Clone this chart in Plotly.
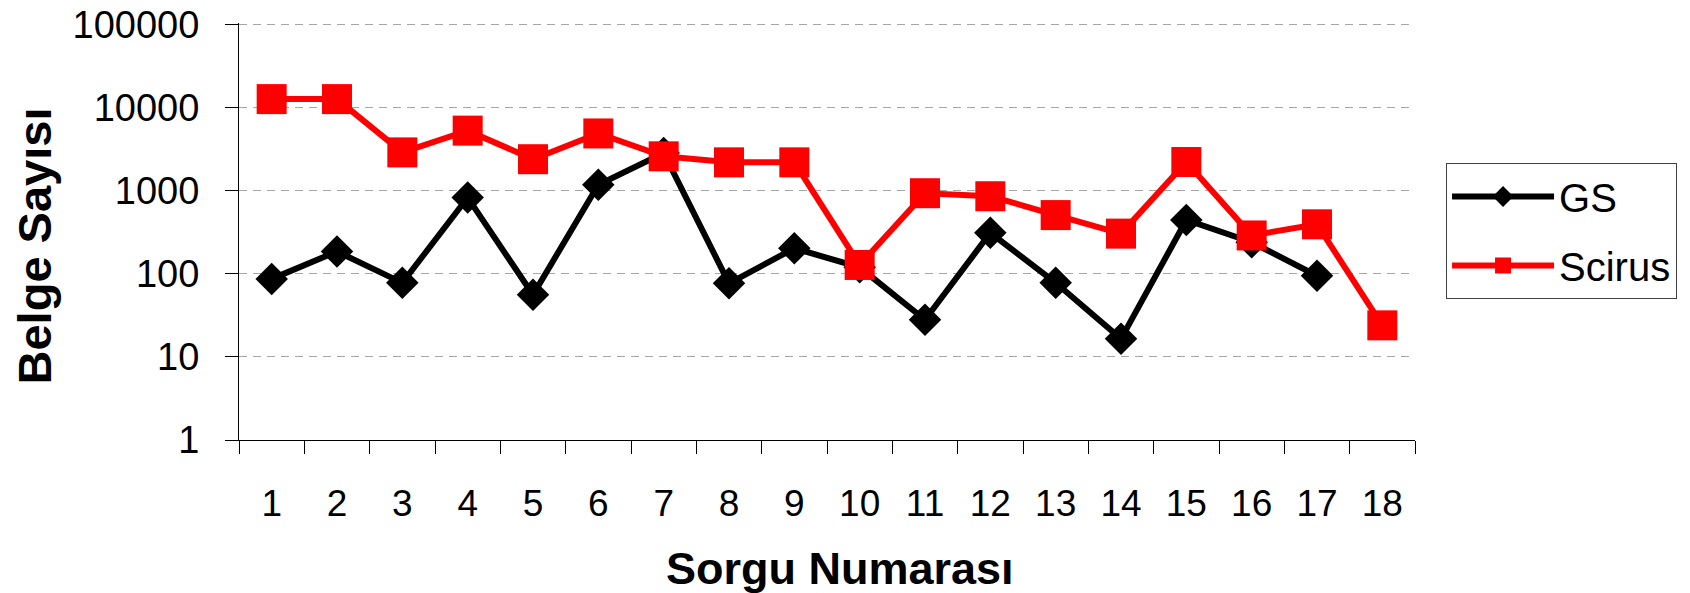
import plotly.graph_objects as go

queries = list(range(1, 19))
tick_labels = [str(q) for q in queries]
y_tick_vals = [1, 10, 100, 1000, 10000, 100000]
y_tick_labels = ["1", "10", "100", "1000", "10000", "100000"]

gs = [87, 186, 78, 830, 56, 1180, 2850, 77, 203, 120, 28, 312, 78, 16.5, 445, 240, 95, None]
scirus = [12700, 12700, 2900, 5300, 2400, 4900, 2600, 2200, 2200, 128, 935, 860, 510, 305, 2220, 290, 395, 24]

FONT = "Arial, 'Liberation Sans', sans-serif"

fig = go.Figure()
fig.add_trace(go.Scatter(
    x=queries, y=gs, name="GS", mode="lines+markers", legendgroup="gs",
    line=dict(color="#000000", width=6),
    marker=dict(symbol="diamond", size=25, color="#000000"),
))
fig.add_trace(go.Scatter(
    x=queries, y=scirus, name="Scirus", mode="lines+markers", legendgroup="sc",
    line=dict(color="#FF0000", width=6),
    marker=dict(symbol="square", size=30, color="#FF0000"),
))

# page body has an 8px margin, so the figure is 8px smaller and shifted
fig.update_layout(
    width=1682, height=585,
    margin=dict(l=231, r=275, t=15, b=153, autoexpand=False),
    plot_bgcolor="white", paper_bgcolor="white",
    font=dict(family=FONT, color="black", size=38),
    showlegend=True,
    legend=dict(
        x=1.0264, y=0.6643, xanchor="left", yanchor="top",
        bgcolor="white", bordercolor="#404040", borderwidth=1,
        font=dict(size=40, family=FONT, color="black"),
        itemwidth=102, tracegroupgap=14,
    ),
    xaxis=dict(
        range=[0.5, 18.5], tickmode="array", tickvals=queries, ticktext=tick_labels,
        ticks="", showline=True, linecolor="#000000", linewidth=1, automargin=False,
        showgrid=False, zeroline=False, tickfont=dict(size=37, family=FONT),
        ticklabelstandoff=31, ticklabeloverflow="allow",
        minor=dict(tickmode="array", tickvals=[q - 0.5 for q in queries] + [18.5],
                   ticks="outside", ticklen=13, tickcolor="#000000", tickwidth=1, showgrid=False),
    ),
    yaxis=dict(
        type="log", range=[0, 5.02], tickmode="array", tickvals=y_tick_vals, ticktext=y_tick_labels,
        ticks="outside", ticklen=13, tickcolor="#000000", tickwidth=1, automargin=False,
        showline=True, linecolor="#000000", linewidth=1,
        showgrid=True, gridcolor="#a6a6a6", griddash="8px,6px", gridwidth=1,
        zeroline=False, tickfont=dict(size=38, family=FONT), ticklabelstandoff=18,
        ticklabeloverflow="allow",
    ),
    annotations=[
        dict(text="Belge Sayısı", x=-0.174, y=0.465, xref="paper", yref="paper",
             xanchor="center", yanchor="middle", textangle=-90, showarrow=False,
             font=dict(size=47, family=FONT, weight="bold", color="black")),
        dict(text="Sorgu Numarası", x=0.511, y=-0.3085, xref="paper", yref="paper",
             xanchor="center", yanchor="middle", showarrow=False,
             font=dict(size=45, family=FONT, weight="bold", color="black")),
    ],
)

fig.write_html("out.html")
